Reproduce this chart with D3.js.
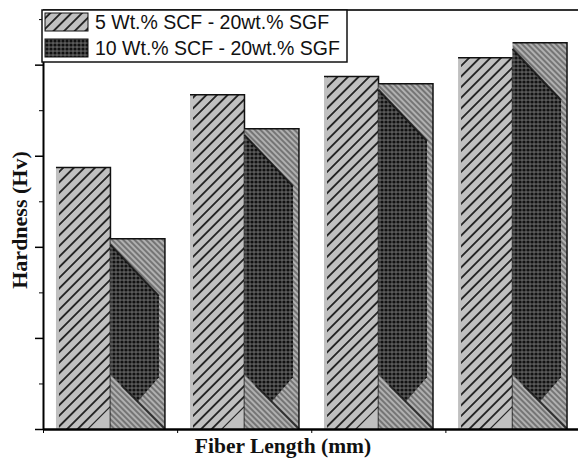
<!DOCTYPE html>
<meta charset="utf-8">
<style>
body { margin: 0; background: #fff; }
.axis path, .axis line { stroke: #000; }
.legend text { font-family: "Liberation Sans", Arial, sans-serif; font-size: 19.5px; fill: #111; }
.title { font-family: "Liberation Serif", "Times New Roman", serif; font-weight: bold; fill: #111; }
</style>
<body>
<svg width="578" height="461"></svg>
</body>
<script src="https://d3js.org/d3.v7.min.js"></script>
<script>
// fibre length groups (no tick labels are printed on the chart)
var lengths = ["1", "2", "3", "4"];
var series = ["5 Wt.% SCF - 20wt.% SGF", "10 Wt.% SCF - 20wt.% SGF"];
var scf5 = [57.4, 73.4, 77.4, 81.5];
var scf10 = [41.8, 65.9, 75.8, 84.8];
var majorTicks = [0, 20, 40, 60, 80];
var minorTicks = [10, 30, 50, 70, 90];

var svg = d3.select("svg");
var plotLeft = 43, plotRight = 579.5, plotTop = 10, plotBottom = 429;

var defs = svg.append("defs");

// grey with "/" hatch
var p1 = defs.append("pattern")
    .attr("id", "hatch")
    .attr("patternUnits", "userSpaceOnUse")
    .attr("width", 7.5).attr("height", 7.5)
    .attr("patternTransform", "rotate(45)");
p1.append("rect").attr("width", 7.5).attr("height", 7.5).attr("fill", "#c0c0c0");
p1.append("line").attr("x1", 3.75).attr("x2", 3.75).attr("y1", 0).attr("y2", 7.5)
    .attr("stroke", "#1e1e1e").attr("stroke-width", 1.8);

// dark dotted fill
var p2 = defs.append("pattern")
    .attr("id", "dots")
    .attr("patternUnits", "userSpaceOnUse")
    .attr("width", 4).attr("height", 4);
p2.append("rect").attr("width", 4).attr("height", 4).attr("fill", "#5a5a5a");
p2.append("circle").attr("cx", 2).attr("cy", 2).attr("r", 1.6).attr("fill", "#111");

// lighter cross hatch seen round the dark core
var p3 = defs.append("pattern")
    .attr("id", "light")
    .attr("patternUnits", "userSpaceOnUse")
    .attr("width", 4).attr("height", 4)
    .attr("patternTransform", "rotate(-45)");
p3.append("rect").attr("width", 4).attr("height", 4).attr("fill", "#b0b0b0");
p3.append("line").attr("x1", 2).attr("x2", 2).attr("y1", 0).attr("y2", 4)
    .attr("stroke", "#555").attr("stroke-width", 1.3);

var x = d3.scaleBand()
    .domain(lengths)
    .range([plotLeft + 0.5, plotRight])
    .paddingInner(0.187)
    .paddingOuter(0.093);

var xs = d3.scaleBand()
    .domain([0, 1])
    .range([0, x.bandwidth()]);

var y = d3.scaleLinear()
    .domain([0, 92])
    .range([plotBottom, plotTop]);

// top frame line
svg.append("line")
    .attr("x1", plotLeft).attr("x2", 578)
    .attr("y1", y(92)).attr("y2", y(92))
    .attr("stroke", "#333").attr("stroke-width", 2);

var groups = svg.append("g")
    .selectAll("g")
    .data(lengths)
    .enter().append("g")
    .attr("transform", function(d) { return "translate(" + x(d) + ",0)"; });

// first series: grey hatched
groups.each(function(d, i) {
    var g = d3.select(this);
    var x0 = xs(0), x1 = xs(0) + xs.bandwidth(), w = xs.bandwidth();
    var yt = y(scf5[i]), yb = y(0), t = w * 0.4;
    g.append("rect")
        .attr("x", x0).attr("y", yt)
        .attr("width", w).attr("height", yb - yt)
        .attr("fill", "#c0c0c0");
    g.append("path")
        .attr("d", d3.line()([[x0 + 3, yt], [x1, yt], [x1, yb - t], [x1 - t, yb], [x0 + 3, yb]]))
        .attr("fill", "url(#hatch)");
    g.append("path")
        .attr("d", d3.line()([[x0, yt], [x1, yt], [x1, yb]]))
        .attr("fill", "none").attr("stroke", "#111").attr("stroke-width", 1.5);
});

// second series: dark dotted with lighter corners
groups.each(function(d, i) {
    var g = d3.select(this);
    var x0 = xs(1), x1 = xs(1) + xs.bandwidth(), w = xs.bandwidth();
    var yt = y(scf10[i]), yb = y(0);
    g.append("rect")
        .attr("x", x0).attr("y", yt)
        .attr("width", w).attr("height", yb - yt)
        .attr("fill", "url(#light)");
    var core = [
        [x0, yt + 6],
        [x1 - 6, yt + w * 1.05],
        [x1 - 6, yb - w * 0.95],
        [x0 + w * 0.5, yb - w * 0.5],
        [x0, yb - w * 1.0]
    ];
    g.append("path")
        .attr("d", d3.line()(core) + "Z")
        .attr("fill", "url(#dots)");
    g.append("line")
        .attr("x1", x0).attr("y1", yt + 6)
        .attr("x2", x1 - 6).attr("y2", yt + w * 1.05)
        .attr("stroke", "#111").attr("stroke-width", 2).attr("stroke-opacity", 0.8);
    g.append("line")
        .attr("x1", x0 + w * 0.2).attr("y1", yb - w * 0.8)
        .attr("x2", x1).attr("y2", yb)
        .attr("stroke", "#111").attr("stroke-width", 2).attr("stroke-opacity", 0.7);
    g.append("path")
        .attr("d", d3.line()([[x0, yt], [x1, yt], [x1, yb]]))
        .attr("fill", "none").attr("stroke", "#111").attr("stroke-width", 1.5);
});

// axes
svg.append("g")
    .attr("class", "axis")
    .attr("transform", "translate(" + plotLeft + ",0)")
    .call(d3.axisLeft(y).tickValues(majorTicks).tickFormat("").tickSize(8).tickSizeOuter(0))
    .call(function(g) { g.select(".domain").attr("stroke-width", 2); })
    .selectAll("line").attr("stroke-width", 1.5);

svg.append("g")
    .attr("class", "axis")
    .attr("transform", "translate(" + plotLeft + ",0)")
    .call(d3.axisLeft(y).tickValues(minorTicks).tickFormat("").tickSize(4).tickSizeOuter(0))
    .call(function(g) { g.select(".domain").remove(); });

var bx = d3.scaleLinear()
    .domain([0, 4])
    .range([plotLeft, plotRight]);

svg.append("g")
    .attr("class", "axis")
    .attr("transform", "translate(0," + plotBottom + ")")
    .call(d3.axisBottom(bx).tickValues([0, 1, 2, 3]).tickFormat("").tickSize(4).tickSizeOuter(0))
    .call(function(g) { g.select(".domain").attr("stroke-width", 2.5); });

// titles
svg.append("text")
    .attr("class", "title")
    .attr("text-anchor", "middle")
    .style("font-size", "21.5px")
    .attr("x", 283).attr("y", 453)
    .text("Fiber Length (mm)");

svg.append("text")
    .attr("class", "title")
    .attr("text-anchor", "middle")
    .style("font-size", "22px")
    .attr("transform", "translate(27," + 220 + ") rotate(-90)")
    .text("Hardness (Hv)");

// legend
var legend = svg.append("g").attr("class", "legend");
legend.append("rect")
    .attr("x", 42).attr("y", 10)
    .attr("width", 305).attr("height", 52)
    .attr("fill", "#fff").attr("stroke", "#111").attr("stroke-width", 1.5);

var fills = ["url(#hatch)", "url(#dots)"];
var item = legend.selectAll("g")
    .data(series)
    .enter().append("g")
    .attr("transform", function(d, i) { return "translate(45," + (13 + i * 26) + ")"; });

item.append("rect")
    .attr("width", 43).attr("height", 18)
    .attr("fill", function(d, i) { return fills[i]; })
    .attr("stroke", "#111").attr("stroke-width", 1);

item.append("text")
    .attr("x", 50).attr("y", 9)
    .attr("dy", "0.36em")
    .text(function(d) { return d; });
</script>
